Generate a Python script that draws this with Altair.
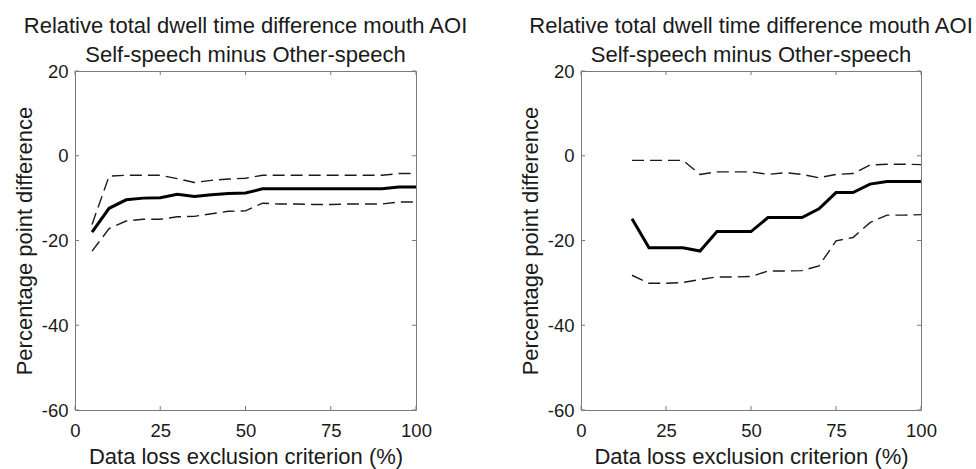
import altair as alt
import pandas as pd

# ---- data ----
x_left = [5, 10, 15, 20, 25, 30, 35, 40, 45, 50, 55, 60, 65, 70, 75, 80, 85, 90, 95, 100]
mean_left = [-18.0, -12.4, -10.4, -10.0, -9.9, -9.1, -9.6, -9.2, -8.9, -8.8,
             -7.8, -7.8, -7.8, -7.8, -7.8, -7.8, -7.8, -7.8, -7.4, -7.4]
upper_left = [-16.2, -4.8, -4.6, -4.6, -4.6, -5.4, -6.3, -5.8, -5.5, -5.3,
              -4.6, -4.6, -4.6, -4.6, -4.6, -4.6, -4.6, -4.6, -4.2, -4.2]
lower_left = [-22.5, -17.2, -15.4, -15.0, -15.0, -14.4, -14.3, -13.7, -13.1, -13.0,
              -11.2, -11.4, -11.4, -11.5, -11.5, -11.4, -11.4, -11.4, -10.9, -10.9]

x_right = [15, 20, 25, 30, 35, 40, 45, 50, 55, 60, 65, 70, 75, 80, 85, 90, 95, 100]
mean_right = [-14.85, -21.7, -21.7, -21.7, -22.5, -17.9, -17.9, -17.9, -14.6,
              -14.6, -14.6, -12.5, -8.7, -8.7, -6.7, -6.1, -6.1, -6.1]
upper_right = [-1.1, -1.1, -1.1, -1.1, -4.4, -3.8, -3.8, -3.8, -4.4,
               -4.0, -4.4, -5.2, -4.4, -4.2, -2.2, -2.0, -2.0, -2.1]
lower_right = [-28.2, -30.1, -30.1, -29.9, -29.2, -28.6, -28.6, -28.5, -27.2,
               -27.2, -27.1, -26.0, -20.1, -19.3, -15.8, -14.0, -14.0, -13.9]

x_ticks = [0, 25, 50, 75, 100]
y_ticks = [20, 0, -20, -40, -60]

title_lines = ["Relative total dwell time difference mouth AOI",
               "Self-speech minus Other-speech"]
x_title = "Data loss exclusion criterion (%)"
y_title = "Percentage point difference"

FONT = "Liberation Sans"
TXT = "#1a1a1a"
FRAME = "#7a7a7a"
H = 339


def panel(xs, mean, upper, lower, w):
    rows = []
    for name, ys in (("mean", mean), ("upper", upper), ("lower", lower)):
        for xv, yv in zip(xs, ys):
            rows.append({"x": xv, "y": yv, "series": name})
    df = pd.DataFrame(rows)

    xscale = alt.Scale(domain=[0, 100], nice=False, zero=False)
    yscale = alt.Scale(domain=[-60, 20], nice=False, zero=False)

    xaxis = alt.Axis(values=x_ticks, title=x_title, grid=False, domain=False,
                     ticks=False, tickSize=0, labelPadding=11, labelFontSize=18.5,
                     labelFont=FONT, labelColor=TXT, titleFont=FONT,
                     titleFontSize=22, titleFontWeight="normal", titleColor=TXT,
                     titleBaseline="alphabetic", titleY=53, labelFlush=False,
                     labelExpr="'' + datum.value")
    yaxis = alt.Axis(values=y_ticks, title=y_title, grid=False, domain=False,
                     ticks=False, tickSize=0, labelPadding=7, labelFontSize=18.5,
                     labelFont=FONT, labelColor=TXT, titleFont=FONT,
                     titleFontSize=22, titleFontWeight="normal", titleColor=TXT,
                     titleBaseline="alphabetic", titleAlign="center",
                     titleX=-44, titleY=H / 2, titleAngle=270, labelFlush=False,
                     labelExpr="'' + datum.value")

    base = alt.Chart(df)
    mean_line = base.transform_filter(alt.datum.series == "mean").mark_line(
        color="#000000", strokeWidth=3).encode(
        x=alt.X("x:Q", scale=xscale, axis=xaxis),
        y=alt.Y("y:Q", scale=yscale, axis=yaxis))
    ci_lines = base.transform_filter(alt.datum.series != "mean").mark_line(
        color="#1a1a1a", strokeWidth=1.4, strokeDash=[12, 6]).encode(
        x=alt.X("x:Q", scale=xscale),
        y=alt.Y("y:Q", scale=yscale),
        detail="series:N")

    tx = pd.DataFrame({"t": x_ticks})
    ty = pd.DataFrame({"t": y_ticks})
    tick_style = dict(color=FRAME, strokeWidth=1)
    top_ticks = alt.Chart(tx).mark_rule(**tick_style).encode(
        x=alt.X("t:Q", scale=xscale), y=alt.value(0), y2=alt.value(4))
    bot_ticks = alt.Chart(tx).mark_rule(**tick_style).encode(
        x=alt.X("t:Q", scale=xscale), y=alt.value(H), y2=alt.value(H - 4))
    left_ticks = alt.Chart(ty).mark_rule(**tick_style).encode(
        y=alt.Y("t:Q", scale=yscale), x=alt.value(0), x2=alt.value(4))
    right_ticks = alt.Chart(ty).mark_rule(**tick_style).encode(
        y=alt.Y("t:Q", scale=yscale), x=alt.value(w), x2=alt.value(w - 4))

    return alt.layer(top_ticks, bot_ticks, left_ticks, right_ticks,
                     ci_lines, mean_line).properties(
        width=w, height=H,
        title=alt.TitleParams(text=title_lines, fontSize=22, fontWeight="normal",
                              font=FONT, color=TXT, lineHeight=29, offset=-5,
                              anchor="middle"))


left = panel(x_left, mean_left, upper_left, lower_left, 341)
right = panel(x_right, mean_right, upper_right, lower_right, 340)

chart = alt.hconcat(left, right, spacing=165, bounds="flush").properties(
    padding={"left": 12, "top": 14, "right": 0, "bottom": 2},
    background="#ffffff").configure_view(
    stroke=FRAME, strokeWidth=1)

chart.save("out.html", embed_options={"renderer": "svg", "actions": False})
